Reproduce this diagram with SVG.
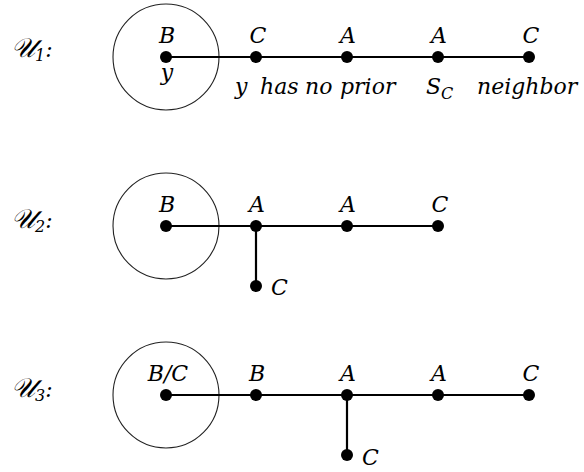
<svg xmlns="http://www.w3.org/2000/svg" width="584" height="472" viewBox="0 0 584 472">
<style>
.t{font-family:'DejaVu Serif',serif;font-style:italic;font-size:22px;fill:#000}
.u{font-size:27px}
.m{text-anchor:middle}
.s{font-size:16px}
.ring{fill:none;stroke:#222;stroke-width:1.1}
.e{stroke:#000;stroke-width:2.2;fill:none}
.d{fill:#000}
</style>
<rect width="584" height="472" fill="#fff"/>
<g id="labels">
<text class="t" x="11" y="57"><tspan class="u">𝒰</tspan><tspan class="s" dy="4">1</tspan><tspan dy="-4">:</tspan></text>
<text class="t" x="11" y="228"><tspan class="u">𝒰</tspan><tspan class="s" dy="4">2</tspan><tspan dy="-4">:</tspan></text>
<text class="t" x="11" y="397"><tspan class="u">𝒰</tspan><tspan class="s" dy="4">3</tspan><tspan dy="-4">:</tspan></text>
</g>
<g id="connectors">
<circle class="ring" cx="166" cy="57" r="53"/>
<circle class="ring" cx="166" cy="226" r="53"/>
<circle class="ring" cx="166" cy="395" r="53"/>
<path class="e" d="M166 57H529"/>
<path class="e" d="M166 226H438M256 226V286"/>
<path class="e" d="M166 395H529M347 395V455"/>
</g>
<g id="row1">
<g id="r1n1"><circle class="d" cx="166" cy="57" r="6"/><text class="t m" x="167" y="43">B</text><text class="t m" x="167" y="80">y</text></g>
<g id="r1n2"><circle class="d" cx="256" cy="57" r="6"/><text class="t m" x="258" y="43">C</text></g>
<g id="r1n3"><circle class="d" cx="347" cy="57" r="6"/><text class="t m" x="348" y="43">A</text></g>
<g id="r1n4"><circle class="d" cx="438" cy="57" r="6"/><text class="t m" x="439" y="43">A</text></g>
<g id="r1n5"><circle class="d" cx="529" cy="57" r="6"/><text class="t m" x="531" y="43">C</text></g>
<g id="note"><text class="t" y="94"><tspan x="235">y</tspan><tspan x="260">has</tspan><tspan x="305">no</tspan><tspan x="340">prior</tspan><tspan x="426">S</tspan><tspan class="s" x="441" dy="5">C</tspan><tspan x="477" dy="-5">neighbor</tspan></text></g>
</g>
<g id="row2">
<g id="r2n1"><circle class="d" cx="166" cy="226" r="6"/><text class="t m" x="167" y="212">B</text></g>
<g id="r2n2"><circle class="d" cx="256" cy="226" r="6"/><text class="t m" x="257" y="212">A</text></g>
<g id="r2n3"><circle class="d" cx="347" cy="226" r="6"/><text class="t m" x="348" y="212">A</text></g>
<g id="r2n4"><circle class="d" cx="438" cy="226" r="6"/><text class="t m" x="440" y="212">C</text></g>
<g id="r2n5"><circle class="d" cx="256" cy="286" r="6"/><text class="t" x="271" y="295">C</text></g>
</g>
<g id="row3">
<g id="r3n1"><circle class="d" cx="166" cy="395" r="6"/><text class="t m" x="168" y="381">B/C</text></g>
<g id="r3n2"><circle class="d" cx="256" cy="395" r="6"/><text class="t m" x="257" y="381">B</text></g>
<g id="r3n3"><circle class="d" cx="347" cy="395" r="6"/><text class="t m" x="348" y="381">A</text></g>
<g id="r3n4"><circle class="d" cx="438" cy="395" r="6"/><text class="t m" x="439" y="381">A</text></g>
<g id="r3n5"><circle class="d" cx="529" cy="395" r="6"/><text class="t m" x="531" y="381">C</text></g>
<g id="r3n6"><circle class="d" cx="347" cy="455" r="6"/><text class="t" x="362" y="465">C</text></g>
</g>
</svg>
